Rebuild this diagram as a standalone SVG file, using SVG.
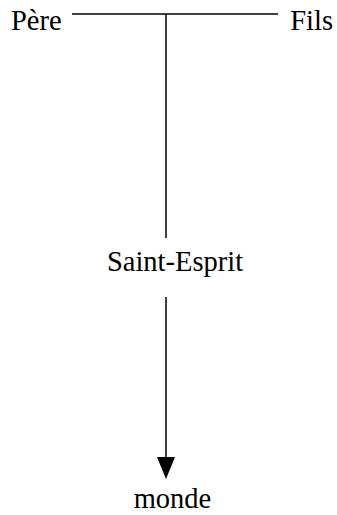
<svg xmlns="http://www.w3.org/2000/svg" width="337" height="515" viewBox="0 0 337 515">
<style>
text{font-family:"Liberation Serif","Times New Roman",serif;font-size:28.5px;fill:#000}
.c{stroke:#000;stroke-width:1.5;fill:none}
</style>
<rect width="337" height="515" fill="#fff"/>
<g id="connectors">
<line class="c" x1="72" y1="14" x2="278" y2="14"/>
<line class="c" x1="166" y1="14" x2="166" y2="238"/>
<line class="c" x1="166" y1="297" x2="166" y2="458"/>
<path d="M157,457 L175,457 L166,479 Z" fill="#000"/>
</g>
<g id="pere"><text x="11" y="30">Père</text></g>
<g id="fils"><text x="333" y="30" text-anchor="end">Fils</text></g>
<g id="saint-esprit"><text x="175" y="271" text-anchor="middle">Saint-Esprit</text></g>
<g id="monde"><text x="172.5" y="508" text-anchor="middle">monde</text></g>
</svg>
